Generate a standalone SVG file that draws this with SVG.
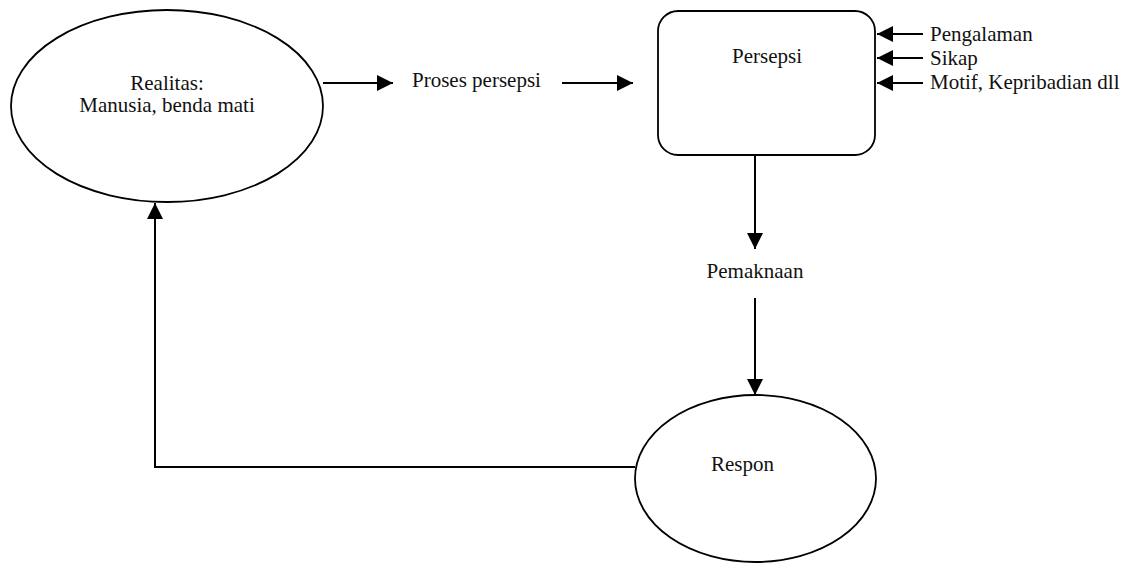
<svg xmlns="http://www.w3.org/2000/svg" width="1132" height="563" viewBox="0 0 1132 563">
<style>
.shape{fill:#fff;stroke:#000;stroke-width:1.8}
.edge{fill:none;stroke:#000;stroke-width:2}
.t{font-family:'Liberation Serif','Times New Roman','DejaVu Serif',serif;font-size:21px;fill:#111}
.c{text-anchor:middle}
</style>
<defs>
<marker id="ah" markerUnits="userSpaceOnUse" markerWidth="17" markerHeight="16" refX="16" refY="8" orient="auto">
<path d="M0,0 L16,8 L0,16 z" fill="#000"/>
</marker>
</defs>
<rect width="1132" height="563" fill="#fff"/>
<g id="realitas">
<ellipse class="shape" cx="167" cy="106" rx="156" ry="96"/>
<text class="t c" x="167" y="90">Realitas:</text>
<text class="t c" x="167" y="112">Manusia, benda mati</text>
</g>
<g id="proses">
<text class="t" x="412" y="87">Proses persepsi</text>
</g>
<g id="persepsi">
<rect class="shape" x="658" y="11" width="217" height="144" rx="20" ry="20"/>
<text class="t c" x="767" y="63">Persepsi</text>
</g>
<g id="faktor">
<text class="t" x="930" y="41">Pengalaman</text>
<text class="t" x="930" y="65">Sikap</text>
<text class="t" x="930" y="89">Motif, Kepribadian dll</text>
</g>
<g id="pemaknaan">
<text class="t c" x="755" y="278">Pemaknaan</text>
</g>
<g id="respon">
<ellipse class="shape" cx="755.5" cy="478.5" rx="120.5" ry="83.5"/>
<text class="t c" x="742.5" y="471">Respon</text>
</g>
<g id="connectors">
<path class="edge" d="M323,83 H393" marker-end="url(#ah)"/>
<path class="edge" d="M562,83 H633" marker-end="url(#ah)"/>
<path class="edge" d="M923,34 H877" marker-end="url(#ah)"/>
<path class="edge" d="M923,58 H877" marker-end="url(#ah)"/>
<path class="edge" d="M923,83 H877" marker-end="url(#ah)"/>
<path class="edge" d="M755,155 V249" marker-end="url(#ah)"/>
<path class="edge" d="M755,298 V395" marker-end="url(#ah)"/>
<path class="edge" d="M635,467 H155 V203" marker-end="url(#ah)"/>
</g>
</svg>
